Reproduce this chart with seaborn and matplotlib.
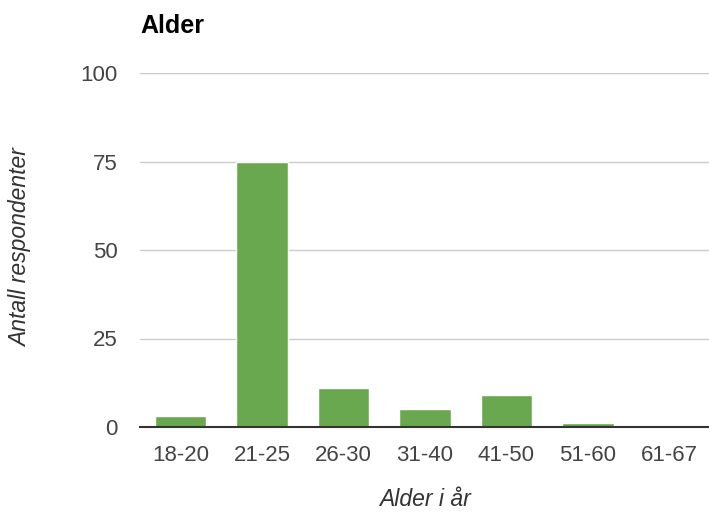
"""Age distribution of respondents."""

import matplotlib
matplotlib.use("Agg")
import matplotlib.pyplot as plt
import pandas as pd
import seaborn as sns

age_groups = ["18-20", "21-25", "26-30", "31-40", "41-50", "51-60", "61-67"]
respondents = [3, 75, 11, 5, 9, 1, 0]
y_ticks = [0, 25, 50, 75, 100]

df = pd.DataFrame({"alder": age_groups, "antall": respondents})

sns.set_style("white")
plt.rcParams["font.family"] = ["Liberation Sans", "DejaVu Sans"]

fig = plt.figure(figsize=(7.09, 5.12), dpi=100)
# plot area: x 140..710 px, y 73..427 px
ax = fig.add_axes([140 / 709, 85 / 512, 570 / 709, 354 / 512])

sns.barplot(data=df, x="alder", y="antall", color="#6aa84f", saturation=1,
            width=0.63, ax=ax, zorder=3)

ax.set_xlim(-0.5, len(age_groups) - 0.5)
ax.set_ylim(0, 100)
ax.set_yticks(y_ticks)
ax.grid(axis="y", color="#cccccc", linewidth=1, zorder=0)
for side in ["top", "right", "left"]:
    ax.spines[side].set_visible(False)
ax.spines["bottom"].set_color("#333333")
ax.spines["bottom"].set_linewidth(1.5)
ax.spines["bottom"].set_zorder(4)
ax.tick_params(axis="both", length=0, labelsize=16, labelcolor="#444444")
ax.tick_params(axis="y", pad=16)
ax.tick_params(axis="x", pad=13)
ax.set_xlabel("")
ax.set_ylabel("")

fig.text(425 / 709, 1 - 500 / 512, "Alder i år", fontsize=16.5, style="italic",
         color="#333333", ha="center", va="center")
fig.text(21 / 709, 1 - 248 / 512, "Antall respondenter", fontsize=16.5,
         style="italic", color="#333333", ha="center", va="center", rotation=90)
fig.text(140 / 709, 1 - 33 / 512, "Alder", fontsize=18, fontweight="bold",
         color="#000000", ha="left", va="baseline")

fig.savefig("out.png", dpi=100)
